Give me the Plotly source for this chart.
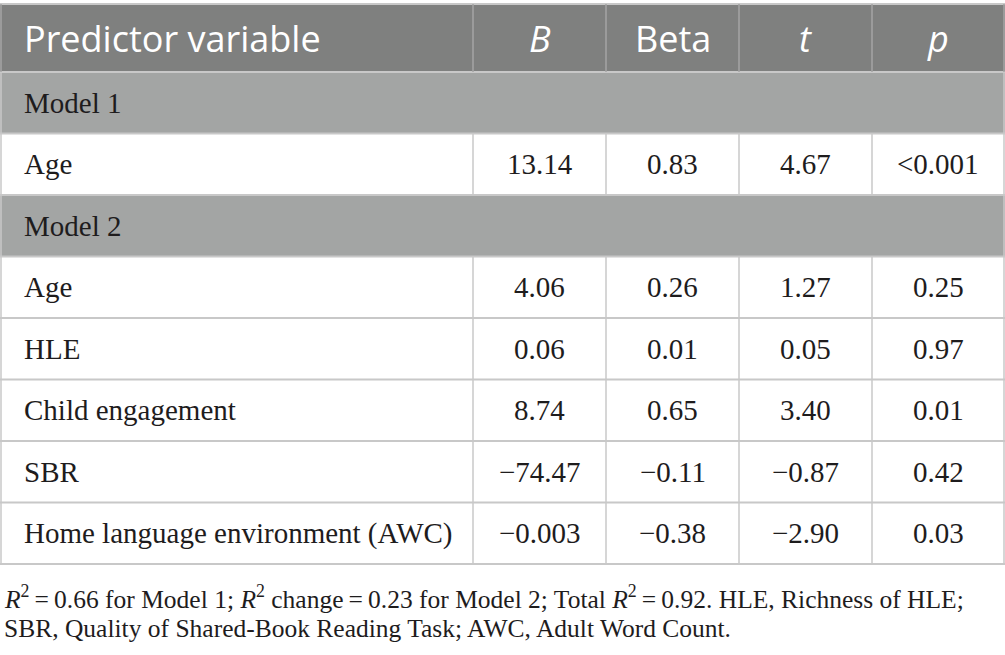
import plotly.graph_objs as go

# === Data ===
headers = ["Predictor variable", "<i>B</i>", "Beta", "<i>t</i>", "<i>p</i>"]
row_labels = ["Model 1", "Age", "Model 2", "Age", "HLE", "Child engagement", "SBR",
              "Home language environment (AWC)"]
b_vals = ["", "13.14", "", "4.06", "0.06", "8.74", "\u221274.47", "\u22120.003"]
beta_vals = ["", "0.83", "", "0.26", "0.01", "0.65", "\u22120.11", "\u22120.38"]
t_vals = ["", "4.67", "", "1.27", "0.05", "3.40", "\u22120.87", "\u22122.90"]
p_vals = ["", "&lt;0.001", "", "0.25", "0.97", "0.01", "0.42", "0.03"]
footnote = [
    "<i>R</i><sup>2</sup>\u2009=\u20090.66 for Model 1; <i>R</i><sup>2</sup> change\u2009=\u20090.23 for Model 2; "
    "Total <i>R</i><sup>2</sup>\u2009=\u20090.92. HLE, Richness of HLE;",
    "SBR, Quality of Shared-Book Reading Task; AWC, Adult Word Count.",
]

# === Layout config ===
W, H = 1005, 655
col_edges = [1, 473, 606, 739, 872, 1004]
head_top, head_bot = 4, 72
row_h = 61.5
header_fill = "#7f807f"
model_fill = "#a3a5a4"
line_col = "#c8c8c8"
head_line_col = "#a4a5a4"
text_col = "#1e1c1d"
serif = "Liberation Serif"
sans = "Open Sans"

value_cols = [b_vals, beta_vals, t_vals, p_vals]
n_rows = len(row_labels)
row_edges = [head_bot + i * row_h for i in range(n_rows + 1)]

shapes = []
annotations = []

# header background
shapes.append(dict(type="rect", xref="x", yref="y", x0=0, x1=W, y0=head_top, y1=head_bot,
                   fillcolor=header_fill, line_width=0, layer="below"))
# model rows background
for i, lab in enumerate(row_labels):
    if all(v[i] == "" for v in value_cols):
        shapes.append(dict(type="rect", xref="x", yref="y", x0=0, x1=W,
                           y0=row_edges[i], y1=row_edges[i + 1],
                           fillcolor=model_fill, line_width=0, layer="below"))

# horizontal lines
for y in [head_top] + row_edges:
    shapes.append(dict(type="line", xref="x", yref="y", x0=0, x1=W, y0=y, y1=y,
                       line=dict(color=line_col, width=2)))

# vertical lines
for x in col_edges:
    shapes.append(dict(type="line", xref="x", yref="y", x0=x, x1=x, y0=head_top, y1=head_bot,
                       line=dict(color=head_line_col, width=1.5)))
    for i in range(n_rows):
        is_model = all(v[i] == "" for v in value_cols)
        if is_model and col_edges[0] < x < col_edges[-1]:
            continue
        shapes.append(dict(type="line", xref="x", yref="y", x0=x, x1=x,
                           y0=row_edges[i], y1=row_edges[i + 1],
                           line=dict(color=line_col, width=1.5)))

# header text
head_mid = (head_top + head_bot) / 2
for j, h in enumerate(headers):
    if j == 0:
        annotations.append(dict(x=22, y=head_mid, text=h, xanchor="left", yanchor="middle",
                                showarrow=False, font=dict(family=sans, size=36, color="white")))
    else:
        annotations.append(dict(x=(col_edges[j] + col_edges[j + 1]) / 2, y=head_mid, text=h,
                                xanchor="center", yanchor="middle", showarrow=False,
                                font=dict(family=sans, size=36, color="white")))

# body text
for i, lab in enumerate(row_labels):
    ym = (row_edges[i] + row_edges[i + 1]) / 2
    annotations.append(dict(x=22, y=ym, text=lab, xanchor="left", yanchor="middle",
                            showarrow=False, font=dict(family=serif, size=29, color=text_col)))
    for j, vals in enumerate(value_cols):
        if vals[i]:
            annotations.append(dict(x=(col_edges[j + 1] + col_edges[j + 2]) / 2, y=ym, text=vals[i],
                                    xanchor="center", yanchor="middle", showarrow=False,
                                    font=dict(family=serif, size=29, color=text_col)))

# footnote
for k, line in enumerate(footnote):
    annotations.append(dict(x=2, y=597 + k * 31, text=line, xanchor="left", yanchor="middle",
                            showarrow=False, font=dict(family=serif, size=25.5, color=text_col)))

fig = go.Figure()
fig.add_trace(go.Scatter(x=[0, W], y=[0, H], mode="markers", marker=dict(opacity=0),
                         hoverinfo="skip", showlegend=False))

fig.update_layout(
    width=W, height=H,
    margin=dict(l=0, r=0, t=0, b=0),
    paper_bgcolor="white", plot_bgcolor="white",
    xaxis=dict(range=[0, W], visible=False, fixedrange=True),
    yaxis=dict(range=[H, 0], visible=False, fixedrange=True),
    shapes=shapes,
    annotations=annotations,
)

fig.write_html("out.html", config={"displayModeBar": False},
               post_script="document.body.style.margin='0';")
